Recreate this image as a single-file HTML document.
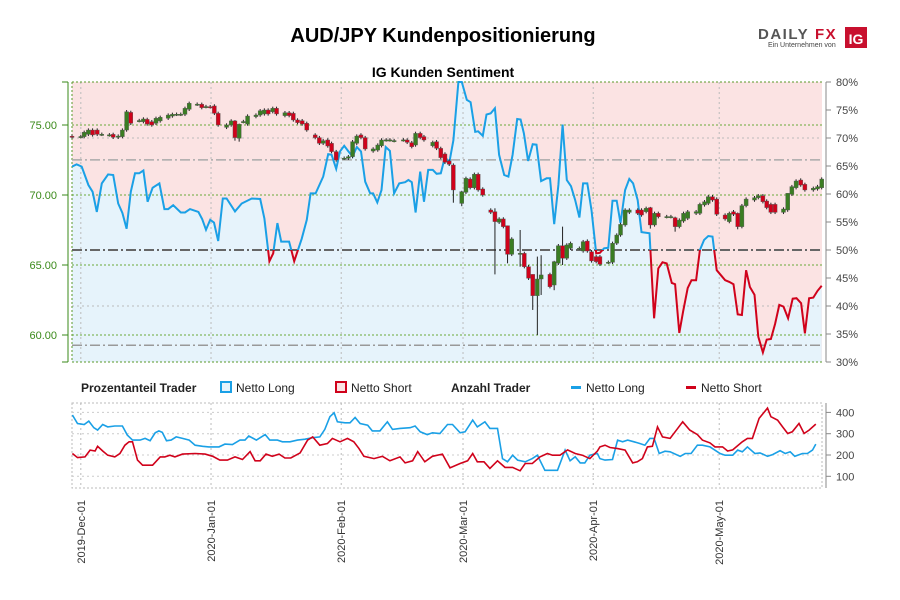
<!DOCTYPE html>
<html><head><meta charset="utf-8"><style>
body{margin:0;background:#fff;}
svg{display:block;font-family:"Liberation Sans",sans-serif;}
</style></head><body>
<svg id="c" width="900" height="600" viewBox="0 0 900 600">
<text x="443" y="42" text-anchor="middle" font-size="20" font-weight="bold" fill="#000">AUD/JPY Kundenpositionierung</text>
<g>
<text x="758" y="39" font-size="15" font-weight="bold" fill="#555" letter-spacing="1.5">DAILY</text>
<text x="815" y="39" font-size="15" font-weight="bold" fill="#c8102e" letter-spacing="1.5">FX</text>
<text x="768" y="47" font-size="7" fill="#444">Ein Unternehmen von</text>
<rect x="845" y="27" width="22" height="21" fill="#c8102e"/>
<text x="856" y="44" font-size="14" font-weight="bold" fill="#fff" text-anchor="middle">IG</text>
</g>
<text x="443" y="77" text-anchor="middle" font-size="14" font-weight="bold" fill="#000">IG Kunden Sentiment</text>
<g id="main"></g>
<g id="legend" font-size="12" fill="#222">
<text x="81" y="392" font-weight="bold">Prozentanteil Trader</text>
<rect x="221" y="382" width="10" height="10" fill="#e6f3fb" stroke="#1aa0e6" stroke-width="2"/>
<text x="236" y="392">Netto Long</text>
<rect x="336" y="382" width="10" height="10" fill="#fbe3e3" stroke="#d0021b" stroke-width="2"/>
<text x="351" y="392">Netto Short</text>
<text x="451" y="392" font-weight="bold">Anzahl Trader</text>
<rect x="571" y="386" width="10" height="3" fill="#1aa0e6"/>
<text x="586" y="392">Netto Long</text>
<rect x="686" y="386" width="10" height="3" fill="#d0021b"/>
<text x="701" y="392">Netto Short</text>
</g>
</svg>
<script>
const sentDay=[0,1.1,2.3,3.9,4.9,5.9,7.1,8.6,9.8,11.0,12.0,13.0,14.0,15.0,16.0,17.0,18.0,19.2,20.8,22.0,22.9,24.1,25.9,26.9,28.1,30.1,31.0,31.9,32.9,33.8,34.8,35.9,36.8,38.8,40.4,42.8,44.8,45.8,47.0,47.9,48.9,49.8,51.7,52.9,54.7,55.9,56.8,58.0,59.8,61.0,61.8,62.9,63.8,64.8,65.8,66.8,67.8,68.8,69.8,71.0,71.7,72.7,73.7,74.7,75.7,76.7,77.9,79.3,80.1,80.9,81.8,82.9,83.8,84.8,85.9,86.8,87.8,88.8,89.8,90.8,92.0,92.8,94.0,94.9,96.0,96.7,97.8,98.7,99.7,100.7,101.7,102.9,103.9,104.9,106.0,106.8,107.6,108.6,109.7,110.6,111.7,113.0,113.8,114.8,115.8,116.8,117.8,118.8,119.8,120.8,121.7,122.7,123.7,124.8,125.7,126.7,127.7,128.7,129.7,130.6,131.7,132.7,133.6,134.7,135.6,137.5,138.6,139.6,140.6,141.6,142.8,143.6,144.6,145.5,146.6,147.5,148.6,149.5,150.5,151.5,152.5,153.5,154.5,155.5,156.5,157.5,158.5,159.5,160.5,161.4,162.5,163.4,164.5,165.4,166.4,167.4,168.4,169.4,170.5,171.6,172.5,173.6,174.5,175.5,176.5,177.5,178.5];
const sentLong=[64.9,65.3,64.9,61.6,60.4,56.8,61.9,63.5,63.4,58.3,56.6,53.8,60.4,63.7,63.7,64.2,58.6,61.1,61.9,57.3,57.3,58.0,56.7,56.7,57.3,56.8,55.5,53.6,55.4,54.9,51.6,59.2,59.2,56.9,58.3,59.2,59.1,55.6,48.0,49.4,54.8,51.5,51.5,48.0,52.0,55.4,60.1,60.1,63.1,67.1,67.0,64.5,67.6,68.6,67.6,66.7,68.4,67.6,62.2,60.1,60.1,58.5,60.7,68.4,67.7,60.1,61.9,62.1,62.5,62.1,56.7,64.0,58.6,64.3,64.3,63.6,63.7,66.7,65.5,69.6,80,80,76.8,76.4,71.1,71.2,70.4,74.2,74.4,75.3,67.0,63.4,63.1,67.0,73.4,73.3,70.8,65.9,68.9,68.8,62.3,62.8,62.8,54.6,61.6,72.4,62.5,61.4,58.9,55.8,61.9,61.9,57.1,49.4,49.5,50.3,50.4,58.8,58.8,54.8,60.7,62.7,61.9,58.9,53.2,53.0,37.8,46.7,47.8,47.6,44.1,43.9,35.2,39.0,43.2,44.6,44.6,50.0,51.8,52.5,52.4,46.4,45.5,44.6,44.3,43.9,38.5,38.4,46.4,43.4,42.0,34.5,31.7,34.0,34.1,36.8,40.2,39.9,37.8,41.3,41.4,40.5,35.1,41.4,41.5,42.7,43.6];
// candles: [day, open, close]
const candleRows=[[0,74.2,74.15],[2.1,74.17,74.18],[2.9,74.17,74.48],[3.9,74.33,74.64],[4.9,74.64,74.29],[6.0,74.64,74.33],[7.1,74.33,74.34],[8.9,74.29,74.3],[9.8,74.33,74.12],[11.0,74.12,74.21],[12.0,74.17,74.64],[13.0,74.64,75.95],[14.0,75.9,75.12],[16.0,75.31,75.32],[17.0,75.24,75.43],[17.9,75.4,75.07],[19.0,75.24,75.0],[20.0,75.12,75.48],[21.0,75.29,75.55],[22.9,75.48,75.71],[23.9,75.64,75.76],[24.9,75.76,75.77],[25.9,75.76,75.77],[26.9,75.76,76.19],[27.9,76.12,76.55],[29.8,76.48,76.49],[30.9,76.48,76.24],[31.9,76.31,76.32],[32.9,76.31,76.3],[33.9,76.36,75.83],[34.8,75.83,75.0],[36.8,74.83,75.0],[37.9,75.0,75.29],[38.8,75.29,74.1],[39.8,74.05,75.05],[40.8,75.24,75.25],[41.8,75.07,75.64],[43.8,75.6,75.71],[44.8,75.71,76.02],[45.8,75.79,76.07],[46.7,76.07,75.79],[47.8,75.95,76.19],[48.7,76.19,75.79],[50.7,75.67,75.88],[51.7,75.88,75.67],[52.7,75.83,75.36],[53.7,75.36,75.17],[54.8,75.31,75.07],[55.9,75.12,74.64],[57.9,74.29,74.1],[58.9,74.1,73.69],[59.8,73.69,73.88],[60.9,73.93,73.5],[61.8,73.69,73.1],[62.9,73.1,72.5],[64.8,72.62,72.63],[65.8,72.62,72.74],[66.8,72.74,73.81],[67.8,73.69,74.21],[68.8,74.29,74.1],[69.8,74.1,73.29],[71.7,73.14,73.29],[72.8,73.21,73.57],[73.7,73.52,73.93],[74.8,73.93,73.94],[75.7,73.93,73.94],[76.7,73.88,73.89],[78.9,73.93,73.94],[79.8,73.93,73.76],[80.9,73.74,73.45],[81.8,73.57,74.4],[82.9,74.4,74.1],[83.8,74.17,73.93],[85.9,73.52,73.76],[86.8,73.81,73.33],[87.8,73.33,72.67],[88.8,72.93,72.33],[89.8,72.43,72.19],[90.8,72.14,70.36],[92.8,69.4,70.24],[93.8,70.19,71.19],[94.8,71.14,70.52],[95.8,70.52,71.48],[96.7,71.48,70.36],[97.8,70.43,70.0],[99.7,68.93,68.76],[100.7,68.81,68.1],[101.7,68.05,68.29],[102.7,68.29,67.74],[103.7,67.81,65.76],[104.7,65.76,66.86],[106.7,65.83,65.84],[107.7,65.83,64.88],[108.7,64.88,64.05],[109.7,64.33,62.81],[110.8,62.81,64.0],[111.7,64.0,64.29],[113.8,64.33,63.45],[114.8,63.57,65.24],[115.8,65.12,66.38],[116.8,66.38,65.48],[117.8,65.48,66.43],[118.7,66.19,66.55],[120.8,66.19,66.2],[121.7,66.0,66.67],[122.7,66.71,66.0],[123.7,65.95,65.29],[124.8,65.6,65.24],[125.7,65.6,65.05],[127.7,65.19,65.2],[128.7,65.19,66.55],[129.7,66.55,67.14],[130.6,67.14,67.9],[131.7,67.86,68.93],[132.7,68.76,68.93],[134.7,68.93,68.69],[135.6,68.93,68.57],[136.7,68.81,69.05],[137.7,69.1,67.86],[138.7,67.86,68.69],[139.6,68.69,68.45],[141.6,68.45,68.46],[142.6,68.45,68.46],[143.6,68.38,67.74],[144.6,67.74,68.21],[145.6,68.14,68.69],[146.6,68.33,68.81],[148.6,68.69,68.81],[149.5,68.69,69.33],[150.6,69.29,69.52],[151.5,69.4,69.88],[152.5,69.88,69.64],[153.5,69.71,68.62],[155.5,68.57,68.29],[156.5,68.1,68.69],[157.5,68.81,68.62],[158.5,68.69,67.74],[159.5,67.74,69.24],[160.5,69.24,69.71],[162.5,69.64,69.81],[163.4,69.81,69.95],[164.5,69.95,69.52],[165.4,69.57,69.1],[166.4,69.33,68.76],[167.4,69.33,68.76],[169.4,68.76,69.0],[170.4,68.93,70.12],[171.4,70.05,70.6],[172.4,70.52,71.0],[173.5,71.07,70.71],[174.5,70.76,70.36],[176.5,70.36,70.48],[177.5,70.43,70.6],[178.5,70.52,71.14]];
// long wicks: [day, high, low]
const wickRows=[[38.8,75.35,73.88],[39.8,75.1,73.81],[90.8,72.26,69.45],[92.8,70.3,69.2],[100.7,69.05,64.33],[103.7,67.81,65.12],[106.7,67.5,64.88],[109.7,64.33,61.79],[110.8,65.6,60.0],[111.7,65.7,62.86],[114.8,65.3,63.2],[116.8,67.74,65.0],[137.7,69.15,67.6],[143.6,68.45,67.38],[158.5,68.75,67.55],[170.4,70.12,68.8]];
const cntLongDay=[0.1,1.3,2.9,4.0,5.2,6.1,7.3,8.5,10.2,12.0,13.2,14.4,16.2,17.4,18.6,19.8,20.7,21.5,22.5,23.6,24.8,26.3,27.9,29.3,31.1,32.6,35.0,36.4,38.2,40.0,41.2,42.1,43.9,46.0,47.1,48.9,50.1,51.9,53.7,55.5,57.3,59.0,60.2,61.4,62.4,63.2,65.0,66.2,67.4,68.6,70.4,71.5,73.3,75.1,76.3,78.1,80.5,81.7,82.9,84.6,85.8,87.6,89.4,90.6,92.4,93.6,95.4,96.5,98.3,99.5,101.3,102.5,103.7,104.9,106.1,107.9,109.6,110.8,112.6,114.2,115.6,117.4,118.6,119.8,121.0,122.1,123.3,125.1,125.7,126.9,128.7,129.9,131.1,132.3,133.8,135.2,136.4,137.6,138.6,139.8,141.2,142.4,144.8,146.0,147.4,148.9,150.1,151.9,154.3,155.5,157.3,158.5,159.6,160.8,162.6,163.8,165.6,166.8,168.6,169.8,171.0,172.1,173.9,175.1,176.3,177.1];
const cntLong=[388,348,343,359,328,317,343,332,336,336,293,270,270,278,267,304,313,306,267,270,285,278,270,246,241,238,238,251,249,270,270,289,270,296,270,270,262,262,270,274,281,285,320,380,398,356,351,351,376,348,340,313,313,356,320,325,328,336,309,296,304,301,343,343,304,309,364,332,356,325,325,183,168,199,176,168,183,199,128,128,128,223,173,192,163,163,199,207,183,176,179,270,262,270,262,254,246,278,278,207,218,215,194,207,207,246,246,238,207,199,199,223,215,238,207,210,194,202,220,207,215,194,207,207,223,251];
const cntShortDay=[0.1,1.3,3.1,4.3,5.5,6.1,7.3,8.5,10.2,11.4,12.6,13.6,14.4,15.6,16.8,19.2,21.0,22.1,23.3,24.5,26.3,29.3,31.7,33.5,35.2,37.0,38.8,40.6,42.4,43.6,44.8,46.2,47.7,49.3,50.7,52.1,54.3,56.1,57.3,59.0,60.8,62.0,63.8,65.6,67.1,68.3,69.5,71.9,73.9,75.7,78.1,79.3,81.1,82.3,84.0,85.8,88.2,90.0,92.4,94.2,95.4,96.5,98.1,99.5,101.3,103.1,104.9,106.7,107.9,109.6,111.4,113.2,114.4,116.2,118.0,119.8,121.5,123.3,125.1,125.7,126.9,128.1,129.9,131.7,133.5,134.6,135.8,137.0,138.2,139.4,140.6,142.4,143.6,145.4,147.1,148.9,150.1,151.9,153.1,154.9,156.1,157.3,159.6,160.8,162.0,163.6,165.6,166.4,168.0,169.2,170.4,171.5,173.1,174.3,175.5,177.1];
const cntShort=[207,188,191,223,219,241,219,199,191,207,246,262,262,176,152,152,191,191,199,191,204,207,204,194,176,176,191,179,216,173,173,204,194,204,186,186,210,270,285,246,254,278,262,278,262,231,194,183,194,173,191,163,173,216,168,194,204,140,160,173,207,168,168,137,173,142,142,126,160,160,191,207,199,199,224,207,199,183,219,238,246,235,230,223,163,168,183,238,241,332,285,278,309,356,317,296,270,257,238,238,219,224,262,278,278,372,420,380,364,332,301,309,348,301,317,345];
const priceTicks=[75,70,65,60];
const pctTicks=[80,75,70,65,60,55,50,45,40,35,30];
const cntTicks=[400,300,200,100];
const dateLabels=["2019-Dec-01","2020-Jan-01","2020-Feb-01","2020-Mar-01","2020-Apr-01","2020-May-01"];
const dateDays=[2.1,33.1,64.1,93.1,124.1,154.1];

const X0=72,X1=822,Y0=82,Y1=362,LY0=403,LY1=488;
const xDay=d=>X0+d*4.2;
const yPct=p=>Y0+(80-p)*5.6;
const yPrice=p=>195-(p-70)*14;
const yCnt=v=>455-(v-200)*0.213;
const NS="http://www.w3.org/2000/svg";
const g=document.getElementById('main');
function el(tag,attrs,parent){const e=document.createElementNS(NS,tag);for(const k in attrs)e.setAttribute(k,attrs[k]);(parent||g).appendChild(e);return e;}

// defs clips
const defs=el('defs',{});
const cpA=el('clipPath',{id:'above'},defs);el('rect',{x:X0,y:Y0-5,width:X1-X0+5,height:yPct(50)-Y0+5},cpA);
const cpB=el('clipPath',{id:'below'},defs);el('rect',{x:X0,y:yPct(50),width:X1-X0+5,height:Y1-yPct(50)+5},cpB);

// background
let r=el('rect',{x:X0,y:Y0,width:X1-X0,height:Y1-Y0,fill:'#fbe3e3'});

let pts=sentDay.map((d,i)=>xDay(d).toFixed(1)+','+yPct(sentLong[i]).toFixed(1));
let area=el('path',{d:'M'+xDay(sentDay[0])+','+Y1+' L'+pts.join(' L')+' L'+xDay(sentDay[sentDay.length-1])+','+Y1+' Z',fill:'#e6f3fb'});


// grid
dateDays.forEach((d,i)=>{
 let l=el('line',{x1:xDay(d),x2:xDay(d),y1:Y0,y2:Y1,stroke:'#bbb','stroke-dasharray':'2,3'});
 
 let l2=el('line',{x1:xDay(d),x2:xDay(d),y1:LY0,y2:LY1,stroke:'#bbb','stroke-dasharray':'2,3'});
 
 let t=el('text',{x:0,y:0,transform:`translate(${xDay(d)+4},500) rotate(-90)`,'text-anchor':'end','font-size':'11',fill:'#333'});
 t.textContent=dateLabels[i];
 
});
[70,40].forEach(p=>{let l=el('line',{x1:X0,x2:X1,y1:yPct(p),y2:yPct(p),stroke:'#bbb','stroke-dasharray':'2,3'});
 });
[Y0,Y1].forEach(y=>{let l=el('line',{x1:X0,x2:X1,y1:y,y2:y,stroke:'#5a9a2a','stroke-dasharray':'2,2'});
 });
let lb=el('line',{x1:X0,x2:X0,y1:Y0,y2:Y1,stroke:'#5a9a2a','stroke-dasharray':'2,2'});

priceTicks.forEach(p=>{
 let l=el('line',{x1:X0,x2:X1,y1:yPrice(p),y2:yPrice(p),stroke:'#6aa83a','stroke-dasharray':'2,2'});
 
 let tk=el('line',{x1:62,x2:68,y1:yPrice(p),y2:yPrice(p),stroke:'#3a8a1a'});
 
 let t=el('text',{x:57,y:yPrice(p)+4,'text-anchor':'end','font-size':'11',fill:'#3a8a1a'});t.textContent=p.toFixed(2);
 
});
let la=el('line',{x1:68,x2:68,y1:Y0,y2:Y1,stroke:'#3a8a1a'});

el('line',{x1:62,x2:68,y1:Y0,y2:Y0,stroke:'#3a8a1a'});el('line',{x1:62,x2:68,y1:Y1,y2:Y1,stroke:'#3a8a1a'});
// reference lines
[[50,'#666',2],[66.1,'#aaa',1.5],[33,'#999',1.5]].forEach(a=>{
 let l=el('line',{x1:X0,x2:X1,y1:yPct(a[0]),y2:yPct(a[0]),stroke:a[1],'stroke-width':a[2],'stroke-dasharray':'10,3,2,3'});
 
});
// right pct axis
let ra=el('line',{x1:X1+4,x2:X1+4,y1:Y0,y2:Y1,stroke:'#888'});

pctTicks.forEach(p=>{
 el('line',{x1:X1+4,x2:X1+9,y1:yPct(p),y2:yPct(p),stroke:'#888'});
 let t=el('text',{x:836,y:yPct(p)+4,'font-size':'11',fill:'#444'});t.textContent=p+'%';
 
});
// sentiment line
const dline='M'+pts.join(' L');
let s1=el('path',{d:dline,fill:'none',stroke:'#1aa0e6','stroke-width':2,'clip-path':'url(#above)'});

let s2=el('path',{d:dline,fill:'none',stroke:'#d0021b','stroke-width':2,'clip-path':'url(#below)'});

// candles
candleRows.forEach(c=>{
 const [d,o,cl]=c;const w=wickRows.find(w=>w[0]===d);
 const hi=w?w[1]:Math.max(o,cl)+0.12, lo=w?w[2]:Math.min(o,cl)-0.12;
 const x=xDay(d);
 let wk=el('line',{x1:x,x2:x,y1:yPrice(hi),y2:yPrice(lo),stroke:'#222','stroke-width':1});
 
 const top=yPrice(Math.max(o,cl)),bot=yPrice(Math.min(o,cl));
 let b=el('rect',{x:x-2,y:top,width:4,height:Math.max(1.2,bot-top),fill:cl>=o?'#3a7d22':'#d0021b',stroke:'#555','stroke-width':0.4});
 
});
// lower panel
let lbox=el('rect',{x:X0,y:LY0,width:X1-X0,height:LY1-LY0,fill:'none',stroke:'#bbb','stroke-dasharray':'2,2'});

let ca=el('line',{x1:X1+4,x2:X1+4,y1:LY0,y2:LY1,stroke:'#888'});

cntTicks.forEach(v=>{
 let l=el('line',{x1:X0,x2:X1,y1:yCnt(v),y2:yCnt(v),stroke:'#ccc','stroke-dasharray':'2,3'});
 
 el('line',{x1:X1+4,x2:X1+9,y1:yCnt(v),y2:yCnt(v),stroke:'#888'});
 let t=el('text',{x:836,y:yCnt(v)+4,'font-size':'11',fill:'#444'});t.textContent=v;
 
});
let pl=el('path',{d:'M'+cntLongDay.map((d,i)=>xDay(d).toFixed(1)+','+yCnt(cntLong[i]).toFixed(1)).join(' L'),fill:'none',stroke:'#1aa0e6','stroke-width':1.6});

let ps=el('path',{d:'M'+cntShortDay.map((d,i)=>xDay(d).toFixed(1)+','+yCnt(cntShort[i]).toFixed(1)).join(' L'),fill:'none',stroke:'#d0021b','stroke-width':1.6});

</script>
</body></html>
